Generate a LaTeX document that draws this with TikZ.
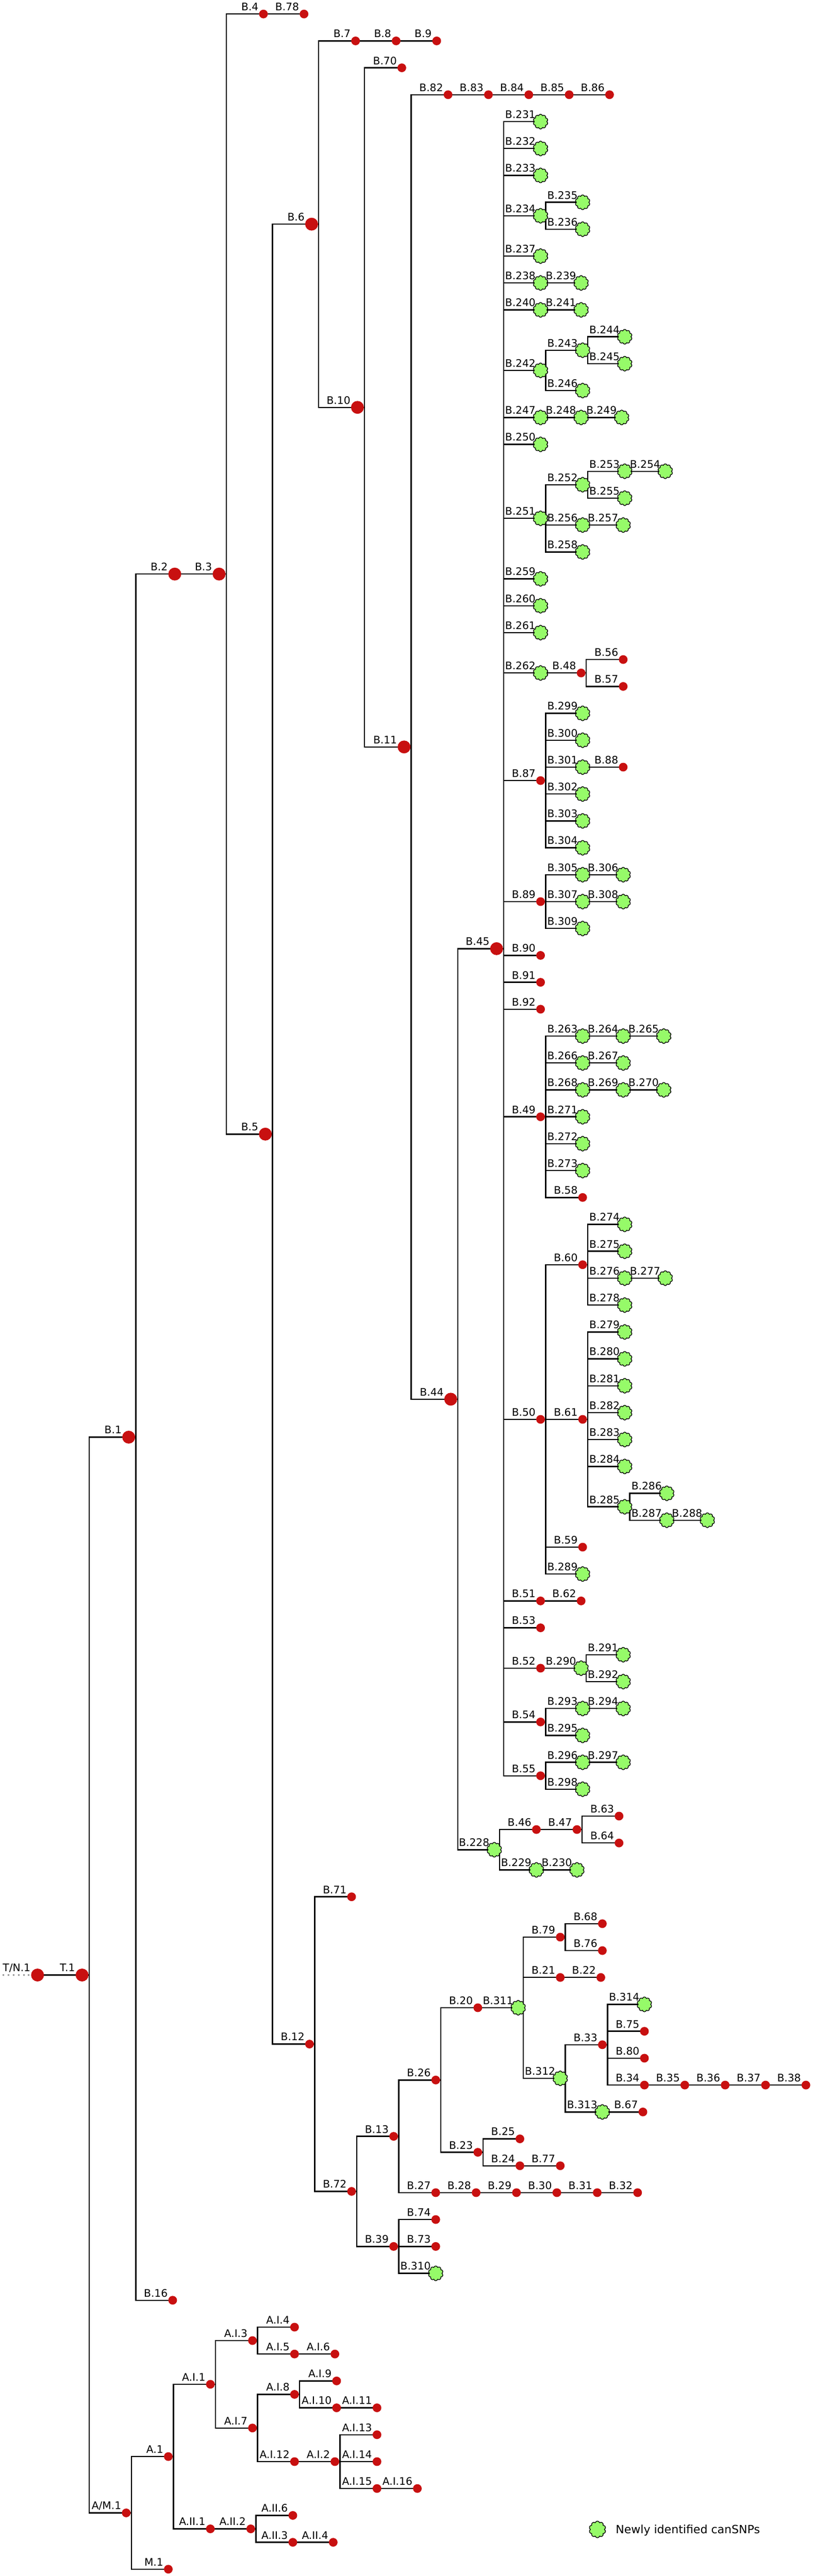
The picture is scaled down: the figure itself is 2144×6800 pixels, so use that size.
\documentclass[tikz,border=0pt]{standalone}
\usepackage{fontspec}
\setmainfont{DejaVu Sans}
\usetikzlibrary{shapes.symbols}
\pgfdeclarelayer{background}
\pgfsetlayers{background,main}
\definecolor{snpred}{RGB}{200,16,16}
\definecolor{snpgreen}{RGB}{150,250,105}
\definecolor{rootgray}{RGB}{150,150,150}
\tikzset{
 reddot/.style={circle,fill=snpred,inner sep=0pt,minimum size=23pt,draw=none},
 bigdot/.style={circle,fill=snpred,inner sep=0pt,minimum size=34pt,draw=none},
 newsnp/.style={cloud,cloud puffs=10,cloud puff arc=150,aspect=1,fill=snpgreen,draw=black,line width=1.8pt,inner sep=0pt,minimum width=39pt,minimum height=39pt},
 lab/.style={anchor=base east,inner sep=0pt,font=\fontsize{27.5}{30}\selectfont},
 edge/.style={line width=3.3pt,black},
}
\newcommand\snp[6]{\node[#1] (#2) at (#3,{37+71*(#4)}) {};
 \node[lab] (#2l) at ({#3-#6},{37+71*(#4)-9}) {#5};}
\newcommand\Rn[4]{\snp{reddot}{#1}{#2}{#3}{#4}{13}}
\newcommand\Gn[4]{\snp{newsnp}{#1}{#2}{#3}{#4}{13}}
\newcommand\Bn[4]{\snp{bigdot}{#1}{#2}{#3}{#4}{18.5}}
\newcommand\ch[2]{\draw[edge] (#1.center) -- (#2.center);}
\newcommand\brs[2]{\foreach \c in {#2} {\draw[edge] (#1.center) -- ++(13.5,0) |- (\c.center);}}
\newcommand\brb[2]{\foreach \c in {#2} {\draw[edge] (#1.center) -- ++(18.75,0) |- (\c.center);}}
\begin{document}
\begin{tikzpicture}[x=1pt,y=-1pt]
\useasboundingbox (0,0) rectangle (2144,6800);
% spine
\Bn{TN1}{99}{72.90869}{T/N.1}
\Bn{T1}{216.5}{72.90869}{T.1}
\Bn{B1}{339.5}{52.91113}{B.1}
\Bn{B2}{461}{20.82227}{B.2}
\Bn{B3}{578}{20.82227}{B.3}
\Rn{B4}{695}{0}{B.4}
\Rn{B78}{802}{0}{B.78}
\Bn{B5}{700}{41.64453}{B.5}
\Bn{B6}{822}{7.8125}{B.6}
\Rn{B7}{938}{1}{B.7}
\Rn{B8}{1045}{1}{B.8}
\Rn{B9}{1152}{1}{B.9}
\Bn{B10}{943}{14.625}{B.10}
\Rn{B70}{1060}{2}{B.70}
\Bn{B11}{1066}{27.25}{B.11}
\Rn{B82}{1182}{3}{B.82}
\Rn{B83}{1288.5}{3}{B.83}
\Rn{B84}{1395}{3}{B.84}
\Rn{B85}{1501.5}{3}{B.85}
\Rn{B86}{1608}{3}{B.86}
\Bn{B44}{1189}{51.5}{B.44}
\Bn{B45}{1310}{34.75}{B.45}
% B.45 clade
\Gn{B231}{1426}{4}{B.231}
\Gn{B232}{1426}{5}{B.232}
\Gn{B233}{1426}{6}{B.233}
\Gn{B234}{1426}{7.5}{B.234}
\Gn{B235}{1537}{7}{B.235}
\Gn{B236}{1537}{8}{B.236}
\Gn{B237}{1426}{9}{B.237}
\Gn{B238}{1426}{10}{B.238}
\Gn{B239}{1533}{10}{B.239}
\Gn{B240}{1426}{11}{B.240}
\Gn{B241}{1533}{11}{B.241}
\Gn{B242}{1426}{13.25}{B.242}
\Gn{B243}{1537}{12.5}{B.243}
\Gn{B244}{1648}{12}{B.244}
\Gn{B245}{1648}{13}{B.245}
\Gn{B246}{1537}{14}{B.246}
\Gn{B247}{1426}{15}{B.247}
\Gn{B248}{1533}{15}{B.248}
\Gn{B249}{1640}{15}{B.249}
\Gn{B250}{1426}{16}{B.250}
\Gn{B251}{1426}{18.75}{B.251}
\Gn{B252}{1537}{17.5}{B.252}
\Gn{B253}{1648}{17}{B.253}
\Gn{B254}{1755}{17}{B.254}
\Gn{B255}{1648}{18}{B.255}
\Gn{B256}{1537}{19}{B.256}
\Gn{B257}{1644}{19}{B.257}
\Gn{B258}{1537}{20}{B.258}
\Gn{B259}{1426}{21}{B.259}
\Gn{B260}{1426}{22}{B.260}
\Gn{B261}{1426}{23}{B.261}
\Gn{B262}{1426}{24.5}{B.262}
\Rn{B48}{1533}{24.5}{B.48}
\Rn{B56}{1644}{24}{B.56}
\Rn{B57}{1644}{25}{B.57}
\Rn{B87}{1426}{28.5}{B.87}
\Gn{B299}{1537}{26}{B.299}
\Gn{B300}{1537}{27}{B.300}
\Gn{B301}{1537}{28}{B.301}
\Rn{B88}{1644}{28}{B.88}
\Gn{B302}{1537}{29}{B.302}
\Gn{B303}{1537}{30}{B.303}
\Gn{B304}{1537}{31}{B.304}
\Rn{B89}{1426}{33}{B.89}
\Gn{B305}{1537}{32}{B.305}
\Gn{B306}{1644}{32}{B.306}
\Gn{B307}{1537}{33}{B.307}
\Gn{B308}{1644}{33}{B.308}
\Gn{B309}{1537}{34}{B.309}
\Rn{B90}{1426}{35}{B.90}
\Rn{B91}{1426}{36}{B.91}
\Rn{B92}{1426}{37}{B.92}
\Rn{B49}{1426}{41}{B.49}
\Gn{B263}{1537}{38}{B.263}
\Gn{B264}{1644}{38}{B.264}
\Gn{B265}{1751}{38}{B.265}
\Gn{B266}{1537}{39}{B.266}
\Gn{B267}{1644}{39}{B.267}
\Gn{B268}{1537}{40}{B.268}
\Gn{B269}{1644}{40}{B.269}
\Gn{B270}{1751}{40}{B.270}
\Gn{B271}{1537}{41}{B.271}
\Gn{B272}{1537}{42}{B.272}
\Gn{B273}{1537}{43}{B.273}
\Rn{B58}{1537}{44}{B.58}
\Rn{B50}{1426}{52.25}{B.50}
\Rn{B60}{1537}{46.5}{B.60}
\Gn{B274}{1648}{45}{B.274}
\Gn{B275}{1648}{46}{B.275}
\Gn{B276}{1648}{47}{B.276}
\Gn{B277}{1755}{47}{B.277}
\Gn{B278}{1648}{48}{B.278}
\Rn{B61}{1537}{52.25}{B.61}
\Gn{B279}{1648}{49}{B.279}
\Gn{B280}{1648}{50}{B.280}
\Gn{B281}{1648}{51}{B.281}
\Gn{B282}{1648}{52}{B.282}
\Gn{B283}{1648}{53}{B.283}
\Gn{B284}{1648}{54}{B.284}
\Gn{B285}{1648}{55.5}{B.285}
\Gn{B286}{1759}{55}{B.286}
\Gn{B287}{1759}{56}{B.287}
\Gn{B288}{1866}{56}{B.288}
\Rn{B59}{1537}{57}{B.59}
\Gn{B289}{1537}{58}{B.289}
\Rn{B51}{1426}{59}{B.51}
\Rn{B62}{1533}{59}{B.62}
\Rn{B53}{1426}{60}{B.53}
\Rn{B52}{1426}{61.5}{B.52}
\Gn{B290}{1533}{61.5}{B.290}
\Gn{B291}{1644}{61}{B.291}
\Gn{B292}{1644}{62}{B.292}
\Rn{B54}{1426}{63.5}{B.54}
\Gn{B293}{1537}{63}{B.293}
\Gn{B294}{1644}{63}{B.294}
\Gn{B295}{1537}{64}{B.295}
\Rn{B55}{1426}{65.5}{B.55}
\Gn{B296}{1537}{65}{B.296}
\Gn{B297}{1644}{65}{B.297}
\Gn{B298}{1537}{66}{B.298}
% B.228 clade
\Gn{B228}{1304}{68.25}{B.228}
\Rn{B46}{1415}{67.5}{B.46}
\Rn{B47}{1522}{67.5}{B.47}
\Rn{B63}{1633}{67}{B.63}
\Rn{B64}{1633}{68}{B.64}
\Gn{B229}{1415}{69}{B.229}
\Gn{B230}{1522}{69}{B.230}
% B.12 clade
\Rn{B12}{816.5}{75.47656}{B.12}
\Rn{B71}{927.5}{70}{B.71}
\Rn{B72}{927.5}{80.95313}{B.72}
\Rn{B13}{1038.5}{78.90625}{B.13}
\Rn{B26}{1149.5}{76.8125}{B.26}
\Rn{B20}{1260.5}{74.125}{B.20}
\Gn{B311}{1367}{74.125}{B.311}
\Rn{B79}{1478}{71.5}{B.79}
\Rn{B68}{1589}{71}{B.68}
\Rn{B76}{1589}{72}{B.76}
\Rn{B21}{1478}{73}{B.21}
\Rn{B22}{1585}{73}{B.22}
\Gn{B312}{1478}{76.75}{B.312}
\Rn{B33}{1589}{75.5}{B.33}
\Gn{B314}{1700}{74}{B.314}
\Rn{B75}{1700}{75}{B.75}
\Rn{B80}{1700}{76}{B.80}
\Rn{B34}{1700}{77}{B.34}
\Rn{B35}{1806.5}{77}{B.35}
\Rn{B36}{1913}{77}{B.36}
\Rn{B37}{2019.5}{77}{B.37}
\Rn{B38}{2126}{77}{B.38}
\Gn{B313}{1589}{78}{B.313}
\Rn{B67}{1696}{78}{B.67}
\Rn{B23}{1260.5}{79.5}{B.23}
\Rn{B25}{1371.5}{79}{B.25}
\Rn{B24}{1371.5}{80}{B.24}
\Rn{B77}{1478}{80}{B.77}
\Rn{B27}{1149.5}{81}{B.27}
\Rn{B28}{1256}{81}{B.28}
\Rn{B29}{1362.5}{81}{B.29}
\Rn{B30}{1469}{81}{B.30}
\Rn{B31}{1575.5}{81}{B.31}
\Rn{B32}{1682}{81}{B.32}
\Rn{B39}{1038.5}{83}{B.39}
\Rn{B74}{1149.5}{82}{B.74}
\Rn{B73}{1149.5}{83}{B.73}
\Gn{B310}{1149.5}{84}{B.310}
\Rn{B16}{455.5}{85}{B.16}
% A / M clade
\Rn{AM1}{333}{92.90625}{A/M.1}
\Rn{A1}{444}{90.8125}{A.1}
\Rn{M1}{444}{95}{M.1}
\Rn{AI1}{555}{88.125}{A.I.1}
\Rn{AI3}{666}{86.5}{A.I.3}
\Rn{AI4}{777}{86}{A.I.4}
\Rn{AI5}{777}{87}{A.I.5}
\Rn{AI6}{883.5}{87}{A.I.6}
\Rn{AI7}{666}{89.75}{A.I.7}
\Rn{AI8}{777}{88.5}{A.I.8}
\Rn{AI9}{888}{88}{A.I.9}
\Rn{AI10}{888}{89}{A.I.10}
\Rn{AI11}{994.5}{89}{A.I.11}
\Rn{AI12}{777}{91}{A.I.12}
\Rn{AI2}{883.5}{91}{A.I.2}
\Rn{AI13}{994.5}{90}{A.I.13}
\Rn{AI14}{994.5}{91}{A.I.14}
\Rn{AI15}{994.5}{92}{A.I.15}
\Rn{AI16}{1101}{92}{A.I.16}
\Rn{AII1}{555}{93.5}{A.II.1}
\Rn{AII2}{661.5}{93.5}{A.II.2}
\Rn{AII6}{772.5}{93}{A.II.6}
\Rn{AII3}{772.5}{94}{A.II.3}
\Rn{AII4}{879}{94}{A.II.4}
% legend
\node[newsnp,minimum width=44pt,minimum height=44pt] (legsym) at (1576,6677) {};
\node[anchor=base west,inner sep=0pt,font=\fontsize{30}{32}\selectfont] (legtext) at (1624,6688) {Newly identified canSNPs};
% root stub
\coordinate (rootend) at (7,{37+71*72.90869});
\begin{pgfonlayer}{background}
\draw[rootgray,line width=4pt,dash pattern=on 4pt off 9.4pt] (rootend) -- (TN1);
% chains
\ch{TN1}{T1} \ch{B2}{B3} \ch{B4}{B78} \ch{B7}{B8} \ch{B8}{B9}
\ch{B82}{B83} \ch{B83}{B84} \ch{B84}{B85} \ch{B85}{B86}
\ch{B238}{B239} \ch{B240}{B241} \ch{B247}{B248} \ch{B248}{B249}
\ch{B253}{B254} \ch{B256}{B257} \ch{B262}{B48} \ch{B301}{B88}
\ch{B305}{B306} \ch{B307}{B308} \ch{B263}{B264} \ch{B264}{B265}
\ch{B266}{B267} \ch{B268}{B269} \ch{B269}{B270} \ch{B276}{B277}
\ch{B287}{B288} \ch{B51}{B62} \ch{B52}{B290} \ch{B293}{B294}
\ch{B296}{B297} \ch{B46}{B47} \ch{B229}{B230} \ch{B20}{B311}
\ch{B21}{B22} \ch{B34}{B35} \ch{B35}{B36} \ch{B36}{B37} \ch{B37}{B38}
\ch{B313}{B67} \ch{B24}{B77} \ch{B27}{B28} \ch{B28}{B29} \ch{B29}{B30}
\ch{B30}{B31} \ch{B31}{B32}
\ch{AI5}{AI6} \ch{AI10}{AI11} \ch{AI12}{AI2} \ch{AI15}{AI16}
\ch{AII1}{AII2} \ch{AII3}{AII4}
% branches from big nodes
\brb{T1}{B1,AM1}
\brb{B1}{B2,B16}
\brb{B3}{B4,B5}
\brb{B5}{B6,B12}
\brb{B6}{B7,B10}
\brb{B10}{B70,B11}
\brb{B11}{B82,B44}
\brb{B44}{B45,B228}
\brb{B45}{B231,B232,B233,B234,B237,B238,B240,B242,B247,B250,B251,B259,B260,B261,B262,B87,B89,B90,B91,B92,B49,B50,B51,B53,B52,B54,B55}
% branches from small nodes
\brs{B234}{B235,B236}
\brs{B242}{B243,B246}
\brs{B243}{B244,B245}
\brs{B251}{B252,B256,B258}
\brs{B252}{B253,B255}
\brs{B48}{B56,B57}
\brs{B87}{B299,B300,B301,B302,B303,B304}
\brs{B89}{B305,B307,B309}
\brs{B49}{B263,B266,B268,B271,B272,B273,B58}
\brs{B50}{B60,B61,B59,B289}
\brs{B60}{B274,B275,B276,B278}
\brs{B61}{B279,B280,B281,B282,B283,B284,B285}
\brs{B285}{B286,B287}
\brs{B290}{B291,B292}
\brs{B54}{B293,B295}
\brs{B55}{B296,B298}
\brs{B228}{B46,B229}
\brs{B47}{B63,B64}
\brs{B12}{B71,B72}
\brs{B72}{B13,B39}
\brs{B13}{B26,B27}
\brs{B26}{B20,B23}
\brs{B311}{B79,B21,B312}
\brs{B79}{B68,B76}
\brs{B312}{B33,B313}
\brs{B33}{B314,B75,B80,B34}
\brs{B23}{B25,B24}
\brs{B39}{B74,B73,B310}
\brs{AM1}{A1,M1}
\brs{A1}{AI1,AII1}
\brs{AI1}{AI3,AI7}
\brs{AI3}{AI4,AI5}
\brs{AI7}{AI8,AI12}
\brs{AI8}{AI9,AI10}
\brs{AI2}{AI13,AI14,AI15}
\brs{AII2}{AII6,AII3}
\end{pgfonlayer}
\end{tikzpicture}
\end{document}
